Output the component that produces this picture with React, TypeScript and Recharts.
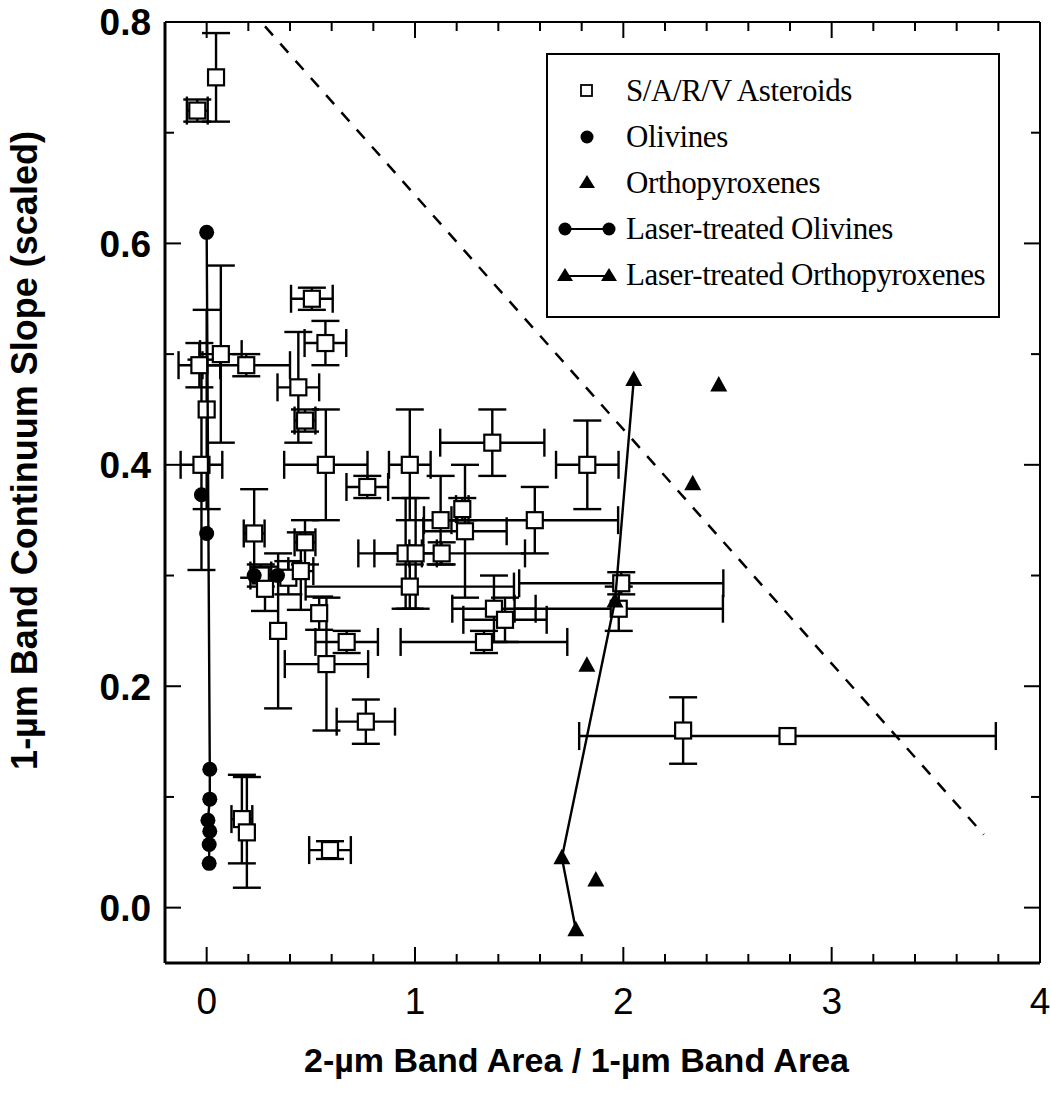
import React from 'react'
import { ScatterChart, Scatter, XAxis, YAxis, ErrorBar, ReferenceLine, Legend } from 'recharts'

const W = 1051
const H = 1094
const PLOT = { left: 165, right: 1040, top: 22, bottom: 963 }

// S/A/R/V asteroids: [x, y, x error, y error]
const asteroids = [
  [0.045, 0.75, 0, 0.04],
  [-0.045, 0.72, 0.05, 0.01],
  [0.505, 0.55, 0.1, 0.01],
  [0.57, 0.51, 0.1, 0.02],
  [0.068, 0.5, 0.1, 0.08],
  [-0.035, 0.49, 0.1, 0.02],
  [0.19, 0.49, 0.21, 0.01],
  [0.0, 0.45, 0, 0.09],
  [-0.025, 0.4, 0.1, 0.095],
  [0.44, 0.47, 0.1, 0.05],
  [0.472, 0.44, 0.05, 0.01],
  [0.572, 0.4, 0.2, 0.05],
  [0.771, 0.38, 0.1, 0.01],
  [0.975, 0.4, 0.1, 0.05],
  [1.371, 0.42, 0.25, 0.03],
  [1.827, 0.4, 0.15, 0.04],
  [1.123, 0.35, 0.08, 0.04],
  [1.227, 0.36, 0.03, 0.01],
  [1.24, 0.34, 0.2, 0.06],
  [1.575, 0.35, 0.4, 0.03],
  [0.955, 0.32, 0.15, 0.05],
  [1.003, 0.32, 0.03, 0.05],
  [1.128, 0.32, 0.4, 0.01],
  [0.228, 0.338, 0.05, 0.04],
  [0.472, 0.33, 0.05, 0.02],
  [0.26, 0.3, 0.05, 0.01],
  [0.392, 0.298, 0, 0.015],
  [0.452, 0.304, 0.06, 0.035],
  [0.28, 0.288, 0, 0.02],
  [0.343, 0.25, 0, 0.07],
  [0.975, 0.29, 0.5, 0.02],
  [1.99, 0.293, 0.49, 0.01],
  [1.978, 0.27, 0.5, 0.02],
  [1.379, 0.27, 0.2, 0.03],
  [1.432, 0.26, 0.2, 0.02],
  [1.331, 0.24, 0.4, 0.01],
  [0.54, 0.266, 0, 0.015],
  [0.672, 0.24, 0.15, 0.01],
  [0.575, 0.22, 0.2, 0.06],
  [0.764, 0.168, 0.14, 0.02],
  [2.287, 0.16, 0, 0.03],
  [2.788, 0.155, 1.0, 0],
  [0.169, 0.08, 0.05, 0.04],
  [0.193, 0.068, 0, 0.05],
  [0.592, 0.052, 0.1, 0.008],
]

const olivines = [
  [-0.025, 0.373],
  [0.0, 0.338],
  [0.228, 0.3],
  [0.34, 0.3],
]

const laserOlivines = [
  [0.0, 0.61],
  [0.015, 0.125],
  [0.015, 0.098],
  [0.006, 0.079],
  [0.015, 0.069],
  [0.012, 0.057],
  [0.012, 0.04],
]

const orthopyroxenes = [
  [2.458, 0.472],
  [2.333, 0.383],
  [1.825, 0.219],
  [1.868, 0.025],
]

const laserOrthopyroxenes = [
  [1.772, -0.02],
  [1.705, 0.045],
  [1.96, 0.277],
  [2.05, 0.477],
]

// dashed boundary line endpoints
const boundary = [
  [0.28, 0.796],
  [3.73, 0.066],
]

const xTicks = [0, 0.2, 0.4, 0.6, 0.8, 1, 1.2, 1.4, 1.6, 1.8, 2, 2.2, 2.4, 2.6, 2.8, 3, 3.2, 3.4, 3.6, 3.8, 4]
const yTicks = [0, 0.1, 0.2, 0.3, 0.4, 0.5, 0.6, 0.7, 0.8]
const yLabels = [0, 0.2, 0.4, 0.6, 0.8]

const legendLabels = [
  'S/A/R/V Asteroids',
  'Olivines',
  'Orthopyroxenes',
  'Laser-treated Olivines',
  'Laser-treated Orthopyroxenes',
]

const toPoints = (rows: number[][]) => rows.map(([x, y]) => ({ x, y }))
const asteroidData = asteroids.map(([x, y, xe, ye]) => ({ x, y, xe, ye }))

const SANS = 'Arial, "Liberation Sans", Helvetica, sans-serif'
const SERIF = '"Liberation Serif", "Times New Roman", serif'
const MAJOR = 16
const MINOR = 9

function XTick(props: any) {
  const { x, payload } = props
  const y = PLOT.bottom
  const v = payload.value
  const major = Math.abs(v - Math.round(v)) < 1e-6
  const len = major ? MAJOR : MINOR
  return (
    <g>
      <line x1={x} x2={x} y1={y} y2={y - len} stroke="#000" strokeWidth={2} />
      <line x1={x} x2={x} y1={PLOT.top} y2={PLOT.top + len} stroke="#000" strokeWidth={2} />
      {major && (
        <text x={x} y={y + 51} textAnchor="middle" fontSize={37} fontFamily={SANS} fill="#000">
          {Math.round(v)}
        </text>
      )}
    </g>
  )
}

function YTick(props: any) {
  const { y, payload } = props
  const x = PLOT.left
  const v = payload.value
  const major = yLabels.some((l) => Math.abs(l - v) < 1e-6)
  const len = major ? MAJOR : MINOR
  return (
    <g>
      <line x1={x} x2={x + len} y1={y} y2={y} stroke="#000" strokeWidth={2} />
      <line x1={PLOT.right} x2={PLOT.right - len} y1={y} y2={y} stroke="#000" strokeWidth={2} />
      {major && (
        <text x={x - 14} y={y} dy="0.36em" textAnchor="end" fontSize={37} fontWeight="bold" fontFamily={SANS} fill="#000">
          {v.toFixed(1)}
        </text>
      )}
    </g>
  )
}

const square = (p: any) => (
  <rect x={p.cx - 8} y={p.cy - 8} width={16} height={16} fill="#fff" stroke="#000" strokeWidth={2.2} />
)
const dot = (p: any) => <circle cx={p.cx} cy={p.cy} r={7.5} fill="#000" />
const triangle = (p: any) => (
  <polygon points={`${p.cx},${p.cy - 9} ${p.cx - 8.5},${p.cy + 6.5} ${p.cx + 8.5},${p.cy + 6.5}`} fill="#000" />
)

function legendSymbol(i: number) {
  if (i === 0) return <rect x={33} y={17} width={11} height={11} fill="#fff" stroke="#000" strokeWidth={1.8} />
  if (i === 1) return <circle cx={39} cy={23} r={6.5} fill="#000" />
  if (i === 2) return <polygon points="39,15 31,28 47,28" fill="#000" />
  if (i === 3)
    return (
      <g>
        <line x1={17} x2={61} y1={23} y2={23} stroke="#000" strokeWidth={2} />
        <circle cx={17} cy={23} r={6.5} fill="#000" />
        <circle cx={61} cy={23} r={6.5} fill="#000" />
      </g>
    )
  return (
    <g>
      <line x1={17} x2={61} y1={24} y2={24} stroke="#000" strokeWidth={2} />
      <polygon points="17,16 9,29 25,29" fill="#000" />
      <polygon points="61,16 53,29 69,29" fill="#000" />
    </g>
  )
}

function LegendBox() {
  return (
    <div
      style={{
        width: 454,
        height: 265,
        border: '2px solid #000',
        boxSizing: 'border-box',
        background: '#fff',
        fontFamily: SERIF,
        fontSize: 31,
        color: '#000',
        paddingTop: 13,
      }}
    >
      {legendLabels.map((label, i) => (
        <div key={label} style={{ display: 'flex', alignItems: 'center', height: 46 }}>
          <svg width={78} height={46} style={{ flex: 'none' }}>
            {legendSymbol(i)}
          </svg>
          <span style={{ whiteSpace: 'nowrap', letterSpacing: -0.4 }}>{label}</span>
        </div>
      ))}
    </div>
  )
}

export default function App() {
  return (
    <div style={{ position: 'absolute', left: 0, top: 0, width: W, height: H, background: '#fff' }}>
      <ScatterChart
        width={W}
        height={H}
        margin={{ top: PLOT.top, right: W - PLOT.right, bottom: H - PLOT.bottom - 1, left: PLOT.left - 1 }}
      >
        <XAxis
          type="number"
          dataKey="x"
          domain={[-0.2, 4]}
          ticks={xTicks}
          interval={0}
          allowDataOverflow
          height={1}
          tickSize={0}
          tickMargin={0}
          tickLine={false}
          axisLine={{ stroke: '#000', strokeWidth: 3 }}
          tick={<XTick />}
          label={{
            content: ({ viewBox }: any) => (
              <text
                x={viewBox.x + viewBox.width / 2 - 26}
                y={PLOT.bottom + 109}
                textAnchor="middle"
                fontSize={34}
                fontWeight="bold"
                fontFamily={SANS}
                fill="#000"
              >
                2-µm Band Area / 1-µm Band Area
              </text>
            ),
          }}
        />
        <YAxis
          type="number"
          dataKey="y"
          domain={[-0.05, 0.8]}
          ticks={yTicks}
          interval={0}
          allowDataOverflow
          width={1}
          tickSize={0}
          tickMargin={0}
          tickLine={false}
          axisLine={{ stroke: '#000', strokeWidth: 3 }}
          tick={<YTick />}
          label={{
            content: ({ viewBox }: any) => (
              <text
                transform={`translate(${PLOT.left - 128},${viewBox.y + viewBox.height / 2 - 42}) rotate(-90)`}
                textAnchor="middle"
                fontSize={36}
                fontWeight="bold"
                fontFamily={SANS}
                fill="#000"
              >
                1-µm Band Continuum Slope (scaled)
              </text>
            ),
          }}
        />
        <ReferenceLine y={0.8} stroke="#000" strokeWidth={2} />
        <ReferenceLine x={4} stroke="#000" strokeWidth={2} />
        <ReferenceLine
          segment={[
            { x: boundary[0][0], y: boundary[0][1] },
            { x: boundary[1][0], y: boundary[1][1] },
          ]}
          stroke="#000"
          strokeWidth={2.5}
          strokeDasharray="12 11"
        />
        <Scatter name="S/A/R/V Asteroids" data={asteroidData} shape={square} isAnimationActive={false}>
          <ErrorBar dataKey="xe" direction="x" width={14} stroke="#000" strokeWidth={2.4} />
          <ErrorBar dataKey="ye" direction="y" width={14} stroke="#000" strokeWidth={2.4} />
        </Scatter>
        <Scatter name="Olivines" data={toPoints(olivines)} shape={dot} isAnimationActive={false} />
        <Scatter name="Orthopyroxenes" data={toPoints(orthopyroxenes)} shape={triangle} isAnimationActive={false} />
        <Scatter
          name="Laser-treated Olivines"
          data={toPoints(laserOlivines)}
          shape={dot}
          line={{ stroke: '#000', strokeWidth: 2.4 }}
          isAnimationActive={false}
        />
        <Scatter
          name="Laser-treated Orthopyroxenes"
          data={toPoints(laserOrthopyroxenes)}
          shape={triangle}
          line={{ stroke: '#000', strokeWidth: 2.4 }}
          isAnimationActive={false}
        />
        <Legend
          layout="vertical"
          align="center"
          verticalAlign="middle"
          wrapperStyle={{ left: 546, top: 53, width: 454, height: 265 }}
          content={() => <LegendBox />}
        />
      </ScatterChart>
    </div>
  )
}
